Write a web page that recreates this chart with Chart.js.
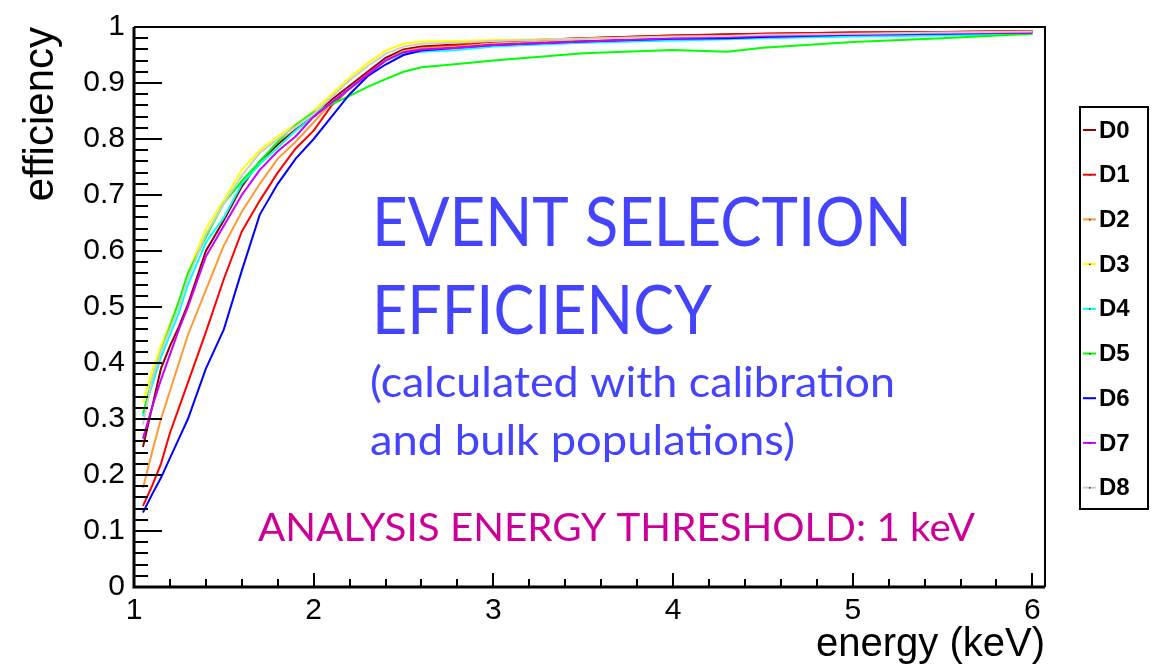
<!DOCTYPE html>
<html>
<head>
<meta charset="utf-8">
<script src="https://cdn.jsdelivr.net/npm/chart.js@4.4.0/dist/chart.umd.min.js"></script>
<style>
  html, body { margin: 0; padding: 0; background: #fff; }
  #wrap { width: 1155px; height: 669px; }
</style>
</head>
<body>
<div id="wrap"><canvas id="effChart" width="1155" height="669"></canvas></div>
<script>
// energy bins (keV) shared by all detectors
const energy = [1.05, 1.1, 1.15, 1.2, 1.25, 1.3, 1.4, 1.5, 1.6, 1.7, 1.8, 1.9, 2.0, 2.1, 2.2,
                2.3, 2.4, 2.5, 2.6, 2.8, 3.0, 3.5, 4.0, 4.3, 4.5, 5.0, 5.5, 6.0];

// efficiency per detector
const D0 = [.25, .32, .39, .43, .465, .505, .60, .655, .715, .76, .79, .817, .84, .87, .895, .92, .945, .96, .965, .969, .974, .98, .985, .987, .988, .99, .991, .993];
const D1 = [.145, .18, .22, .275, .32, .365, .455, .55, .635, .69, .74, .783, .815, .86, .89, .918, .94, .957, .963, .968, .974, .98, .985, .986, .988, .99, .991, .993];
const D2 = [.177, .24, .30, .35, .40, .45, .53, .61, .67, .72, .765, .795, .83, .865, .89, .915, .94, .957, .962, .965, .97, .976, .98, .981, .983, .986, .988, .99];
const D3 = [.33, .385, .43, .47, .51, .56, .64, .69, .745, .78, .805, .826, .85, .88, .91, .935, .958, .97, .974, .975, .977, .979, .982, .983, .985, .987, .989, .99];
const D4 = [.305, .36, .41, .45, .49, .54, .615, .66, .72, .755, .785, .815, .84, .865, .89, .915, .94, .953, .956, .959, .965, .972, .976, .978, .98, .983, .985, .988];
const D5 = [.31, .37, .42, .465, .51, .56, .625, .685, .725, .76, .795, .825, .848, .862, .877, .893, .907, .92, .928, .934, .94, .953, .959, .956, .963, .973, .98, .988];
const D6 = [.133, .165, .195, .23, .265, .30, .39, .46, .565, .665, .72, .765, .80, .84, .88, .912, .933, .95, .958, .963, .968, .974, .979, .98, .982, .986, .988, .99];
const D7 = [.265, .32, .37, .415, .46, .50, .59, .645, .70, .745, .778, .805, .84, .865, .89, .915, .94, .955, .96, .963, .968, .974, .98, .982, .984, .987, .989, .99];
const D8 = [.29, .37, .42, .46, .50, .55, .63, .685, .735, .775, .80, .822, .845, .875, .905, .93, .952, .965, .97, .972, .975, .979, .983, .984, .986, .988, .99, .992];

const detectors = ['D0', 'D1', 'D2', 'D3', 'D4', 'D5', 'D6', 'D7', 'D8'];
const series = [D0, D1, D2, D3, D4, D5, D6, D7, D8];
const lineColors = ['#990000', '#ff0000', '#ff9933', '#ffff00', '#00ffff', '#00ff00', '#0000ff', '#cc00ff', '#cccccc'];

const titleLines = ['EVENT SELECTION', 'EFFICIENCY'];
const subLines = ['(calculated with calibration', 'and bulk populations)'];
const thresholdNote = 'ANALYSIS ENERGY THRESHOLD: 1 keV';

// draw text squeezed/stretched to a given width (the slide font is a narrow one)
function fitText(ctx, text, x, y, width) {
  const w = ctx.measureText(text).width;
  ctx.save();
  ctx.translate(x, y);
  ctx.scale(width / w, 1);
  ctx.fillText(text, 0, 0);
  ctx.restore();
}

// ROOT style frame: inward ticks, thick left/bottom axes
const rootFrame = {
  id: 'rootFrame',
  afterDatasetsDraw(chart) {
    const { ctx, chartArea: a, scales: { x, y } } = chart;
    ctx.save();
    ctx.strokeStyle = '#000';
    ctx.lineWidth = 2;
    for (let k = 0; k <= 50; k++) {
      const py = Math.round(y.getPixelForValue(k / 50));
      const len = k % 5 === 0 ? 28 : 14;
      ctx.beginPath();
      ctx.moveTo(a.left, py);
      ctx.lineTo(a.left + len, py);
      ctx.stroke();
    }
    for (let k = 0; k <= 25; k++) {
      const px = Math.round(x.getPixelForValue(1 + k * 0.2));
      const len = k % 5 === 0 ? 14 : 8;
      ctx.beginPath();
      ctx.moveTo(px, a.bottom);
      ctx.lineTo(px, a.bottom - len);
      ctx.stroke();
    }
    // top + right edges
    ctx.lineWidth = 2;
    ctx.beginPath();
    ctx.moveTo(a.left, a.top);
    ctx.lineTo(a.right, a.top);
    ctx.lineTo(a.right, a.bottom);
    ctx.stroke();
    // axes
    ctx.lineWidth = 3;
    ctx.beginPath();
    ctx.moveTo(a.left, a.top);
    ctx.lineTo(a.left, a.bottom);
    ctx.lineTo(a.right, a.bottom);
    ctx.stroke();
    ctx.restore();
  },
  afterDraw(chart) {
    const ctx = chart.ctx;
    ctx.save();

    // legend box
    ctx.strokeStyle = '#000';
    ctx.lineWidth = 2;
    ctx.strokeRect(1080, 107, 68, 402);
    chart.data.datasets.forEach((ds, i) => {
      const ly = 130 + i * 44.7;
      ctx.strokeStyle = ds.borderColor;
      ctx.lineWidth = 2;
      ctx.beginPath();
      ctx.moveTo(1083, ly);
      ctx.lineTo(1096, ly);
      ctx.stroke();
      ctx.fillStyle = '#333';
      ctx.fillRect(1089, ly - 0.5, 1.5, 1.5);
      ctx.fillStyle = '#000';
      ctx.font = 'bold 24px "Liberation Sans", Arial, sans-serif';
      ctx.textBaseline = 'middle';
      ctx.fillText(ds.label, 1099, ly + 1);
    });

    // slide annotations
    ctx.textBaseline = 'alphabetic';
    ctx.fillStyle = '#4444ff';
    ctx.font = '68px Lato, "Open Sans", sans-serif';
    fitText(ctx, titleLines[0], 372, 246, 540);
    fitText(ctx, titleLines[1], 372, 334, 340);
    ctx.font = '42px Lato, "Open Sans", sans-serif';
    fitText(ctx, subLines[0], 370, 397, 525);
    fitText(ctx, subLines[1], 370, 455, 425);
    ctx.fillStyle = '#cc0099';
    ctx.font = '39px Lato, "Open Sans", sans-serif';
    fitText(ctx, thresholdNote, 258, 541, 717);
    ctx.restore();
  }
};

const ctx = document.getElementById('effChart').getContext('2d');
const effChart = new Chart(ctx, {
  type: 'line',
  data: {
    datasets: detectors.map((name, i) => ({
      label: name,
      data: energy.map((e, j) => ({ x: e, y: series[i][j] })),
      borderColor: lineColors[i],
      backgroundColor: lineColors[i],
      borderWidth: 2,
      pointRadius: 0,
      tension: 0,
      fill: false,
      order: detectors.length - i
    }))
  },
  options: {
    responsive: false,
    animation: false,
    events: [],
    layout: { padding: { top: 19, right: 110, left: 0, bottom: 0 } },
    plugins: { legend: { display: false }, tooltip: { enabled: false } },
    scales: {
      x: {
        type: 'linear',
        min: 1,
        max: 6.07,
        grid: { display: false, drawTicks: false },
        border: { display: false },
        ticks: {
          stepSize: 1,
          includeBounds: false,
          padding: 6,
          color: '#000',
          font: { family: '"Liberation Sans", Arial, sans-serif', size: 30 }
        },
        title: {
          display: true,
          text: 'energy (keV)',
          align: 'end',
          color: '#000',
          padding: { top: 0, bottom: 0 },
          font: { family: '"Liberation Sans", Arial, sans-serif', size: 40, lineHeight: 1.2 }
        },
        afterFit(scale) { scale.height = 82; }
      },
      y: {
        min: 0,
        max: 1,
        grid: { display: false, drawTicks: false },
        border: { display: false },
        ticks: {
          stepSize: 0.1,
          padding: 9,
          color: '#000',
          font: { family: '"Liberation Sans", Arial, sans-serif', size: 30 },
          callback: v => String(Number(v.toFixed(1)))
        },
        title: {
          display: true,
          text: 'efficiency',
          align: 'end',
          color: '#000',
          padding: { top: 16, bottom: 0 },
          font: { family: '"Liberation Sans", Arial, sans-serif', size: 42, lineHeight: 1.2 }
        },
        afterFit(scale) { scale.width = 134; }
      }
    }
  },
  plugins: [rootFrame]
});
</script>
</body>
</html>
